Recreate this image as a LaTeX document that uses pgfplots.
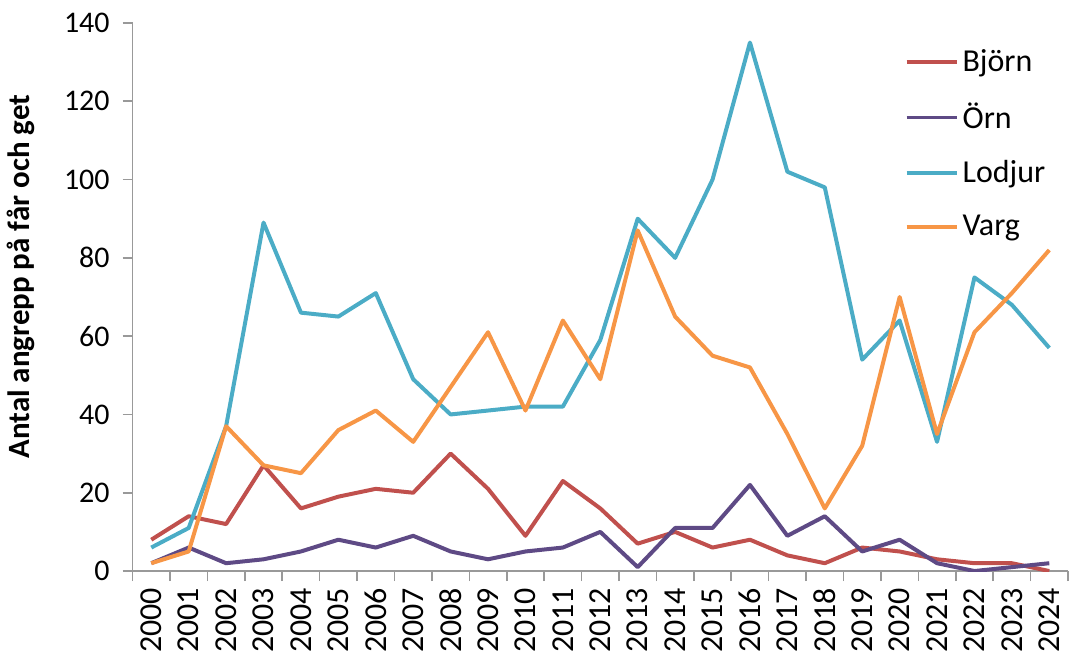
\documentclass[border=0pt]{standalone}
\usepackage{fontspec}
\setmainfont{Carlito}
\usepackage{pgfplots}
\usepackage{pgfplotstable}
\pgfplotsset{compat=1.18}
\definecolor{bjorn}{HTML}{C0504D}
\definecolor{orn}{HTML}{5E4A85}
\definecolor{lodjur}{HTML}{4BACC6}
\definecolor{varg}{HTML}{F79646}
\pgfplotstableread{
x bjorn orn lodjur varg
0 8 2 6 2
1 14 6 11 5
2 12 2 37 37
3 27 3 89 27
4 16 5 66 25
5 19 8 65 36
6 21 6 71 41
7 20 9 49 33
8 30 5 40 47
9 21 3 41 61
10 9 5 42 41
11 23 6 42 64
12 16 10 59 49
13 7 1 90 87
14 10 11 80 65
15 6 11 100 55
16 8 22 135 52
17 4 9 102 35
18 2 14 98 16
19 6 5 54 32
20 5 8 64 70
21 3 2 33 35
22 2 0 75 61
23 2 1 68 71
24 0 2 57 82
}\data
\begin{document}
\begin{tikzpicture}
\begin{axis}[
  name=main,
  scale only axis,
  width=468.5pt, height=274.5pt,
  xmin=-0.5, xmax=24.5,
  ymin=0, ymax=140,
  ytick={0,20,...,140},
  xtick={0,...,24},
  xticklabels={2000,2001,2002,2003,2004,2005,2006,2007,2008,2009,2010,2011,2012,2013,2014,2015,2016,2017,2018,2019,2020,2021,2022,2023,2024},
  minor xtick={-0.5,0.5,...,24.5},
  major x tick style={draw=none},
  tick align=outside,
  major tick length=5pt,
  minor tick length=5pt,
  tick style={gray!80, line width=0.8pt},
  axis x line*=bottom,
  axis y line*=left,
  axis line style={gray!80, line width=0.9pt, -},
  x tick label style={rotate=90, anchor=east, font=\fontsize{16}{19}\selectfont},
  y tick label style={font=\fontsize{15}{18}\selectfont, xshift=-3pt},
  /pgf/number format/assume math mode=true,
  ylabel={Antal angrepp på får och get},
  ylabel style={font=\fontsize{15.5}{18}\selectfont\bfseries, at={(ticklabel cs:0.537)}},
  ylabel shift=8pt,
  legend style={at={(0.825,0.96)}, anchor=north west, draw=none, fill=none,
    font=\fontsize{16}{19}\selectfont, row sep=10.5pt, inner sep=0pt},
  legend cell align=left,
  legend image code/.code={\draw[#1, line width=2pt] (0pt,0pt) -- (25pt,0pt);},
  every axis plot/.append style={line width=2pt, line join=round},
]
\addplot[bjorn] table[x=x, y=bjorn] {\data};
\addplot[orn] table[x=x, y=orn] {\data};
\addplot[lodjur] table[x=x, y=lodjur] {\data};
\addplot[varg] table[x=x, y=varg] {\data};
\legend{Björn, Örn, Lodjur, Varg}
\end{axis}
\path ([xshift=-65.5pt,yshift=-42.5pt]main.south west) rectangle ([xshift=2pt,yshift=11.5pt]main.north east);
\end{tikzpicture}
\end{document}
